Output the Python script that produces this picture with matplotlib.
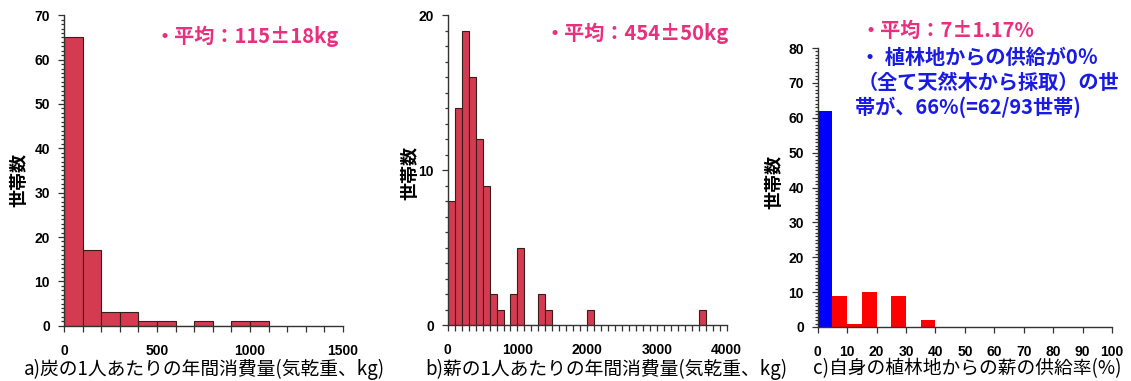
import matplotlib
matplotlib.use("Agg")
import matplotlib.pyplot as plt
from matplotlib.ticker import MultipleLocator

plt.rcParams["font.family"] = ["Liberation Sans", "Noto Sans CJK JP", "DejaVu Sans"]
JP = ["Noto Sans CJK JP", "DejaVu Sans"]

# a) charcoal per capita per year (kg), bins of 100 kg
charcoal_edges = [0, 100, 200, 300, 400, 500, 600, 700, 800, 900, 1000]
charcoal_counts = [65, 17, 3, 3, 1, 1, 0, 1, 0, 1, 1]

# b) fuelwood per capita per year (kg), bins of 100 kg
wood_edges = [0, 100, 200, 300, 400, 500, 600, 700, 800, 900, 1000,
              1100, 1200, 1300, 1400, 2000, 3600]
wood_counts = [8, 14, 19, 16, 12, 9, 2, 1, 0, 2, 5, 0, 0, 2, 1, 1, 1]

# c) share of fuelwood from own plantation (%), bins of 5 %
own_zero_edges = [0]
own_zero_counts = [62]
own_edges = [5, 10, 15, 20, 25, 30, 35]
own_counts = [9, 1, 10, 0, 9, 0, 2]

BAR_RED = "#d43b50"
PINK = "#e8307f"
BLUE = "#1a1ae6"
W, H = 1131, 381


def px_axes(fig, left, right, top, bottom):
    return fig.add_axes([left / W, 1 - bottom / H, (right - left) / W, (bottom - top) / H])


def style_axes(ax):
    ax.spines[["top", "right"]].set_visible(False)
    for s in ("left", "bottom"):
        ax.spines[s].set_linewidth(1.0)
        ax.spines[s].set_color("#333333")
    ax.tick_params(which="both", direction="out", color="#333333", width=0.9)
    ax.tick_params(axis="y", which="major", length=4, pad=6, labelsize=10)
    ax.tick_params(axis="y", which="minor", length=2.2)
    ax.tick_params(axis="x", which="both", length=4, pad=9, labelsize=10)
    for lab in ax.get_xticklabels() + ax.get_yticklabels():
        lab.set_fontweight("bold")


def ylabel(fig, x, y):
    fig.text(x / W, 1 - y / H, "世帯数", rotation=90, ha="center", va="center",
             fontsize=13, fontweight="bold", family=JP)


def xlabel(fig, x, text):
    fig.text(x / W, 1 - 369 / H, text, ha="left", va="center",
             fontsize=13.5, family=JP)


fig = plt.figure(figsize=(W / 100, H / 100), dpi=100)

# panel a
ax = px_axes(fig, 64, 343, 15.3, 325.7)
ax.bar(charcoal_edges, charcoal_counts, width=100, align="edge",
       color=BAR_RED, edgecolor="#3a1c1c", linewidth=0.8)
ax.set_xlim(0, 1500)
ax.set_ylim(0, 70)
ax.xaxis.set_major_locator(MultipleLocator(500))
ax.xaxis.set_minor_locator(MultipleLocator(100))
ax.yaxis.set_major_locator(MultipleLocator(10))
ax.yaxis.set_minor_locator(MultipleLocator(1))
style_axes(ax)
ylabel(fig, 19, 180)
xlabel(fig, 24, "a)炭の1人あたりの年間消費量(気乾重、kg)")
fig.text(155 / W, 1 - 36 / H, "・平均：115±18kg", ha="left", va="center",
         fontsize=14.5, fontweight="bold", color=PINK, family=JP)

# panel b
ax = px_axes(fig, 447.7, 726.7, 15.3, 325.3)
ax.bar(wood_edges, wood_counts, width=100, align="edge",
       color=BAR_RED, edgecolor="#3a1c1c", linewidth=0.8)
ax.set_xlim(0, 4000)
ax.set_ylim(0, 20)
ax.xaxis.set_major_locator(MultipleLocator(1000))
ax.xaxis.set_minor_locator(MultipleLocator(100))
ax.yaxis.set_major_locator(MultipleLocator(10))
ax.yaxis.set_minor_locator(MultipleLocator(1))
style_axes(ax)
ylabel(fig, 410, 173)
xlabel(fig, 425, "b)薪の1人あたりの年間消費量(気乾重、kg)")
fig.text(545 / W, 1 - 33 / H, "・平均：454±50kg", ha="left", va="center",
         fontsize=14.5, fontweight="bold", color=PINK, family=JP)

# panel c
ax = px_axes(fig, 817.7, 1112, 48, 327)
ax.bar(own_zero_edges, own_zero_counts, width=5, align="edge", color="#0000ff")
ax.bar(own_edges, own_counts, width=5, align="edge", color="#ff0000")
ax.set_xlim(0, 100)
ax.set_ylim(0, 80)
ax.xaxis.set_major_locator(MultipleLocator(10))
ax.yaxis.set_major_locator(MultipleLocator(10))
ax.yaxis.set_minor_locator(MultipleLocator(1))
style_axes(ax)
ylabel(fig, 774, 182)
xlabel(fig, 813, "c)自身の植林地からの薪の供給率(%)")
fig.text(860 / W, 1 - 30 / H, "・平均：7±1.17%", ha="left", va="center",
         fontsize=14.5, fontweight="bold", color=PINK, family=JP)
fig.text(860 / W, 1 - 57 / H, "・ 植林地からの供給が0％", ha="left", va="center",
         fontsize=14.5, fontweight="bold", color=BLUE, family=JP)
fig.text(858 / W, 1 - 82 / H, "（全て天然木から採取）の世", ha="left", va="center",
         fontsize=14.5, fontweight="bold", color=BLUE, family=JP)
fig.text(855 / W, 1 - 107 / H, "帯が、66%(=62/93世帯)", ha="left", va="center",
         fontsize=14.5, fontweight="bold", color=BLUE, family=JP)

fig.savefig("out.png", dpi=100)
